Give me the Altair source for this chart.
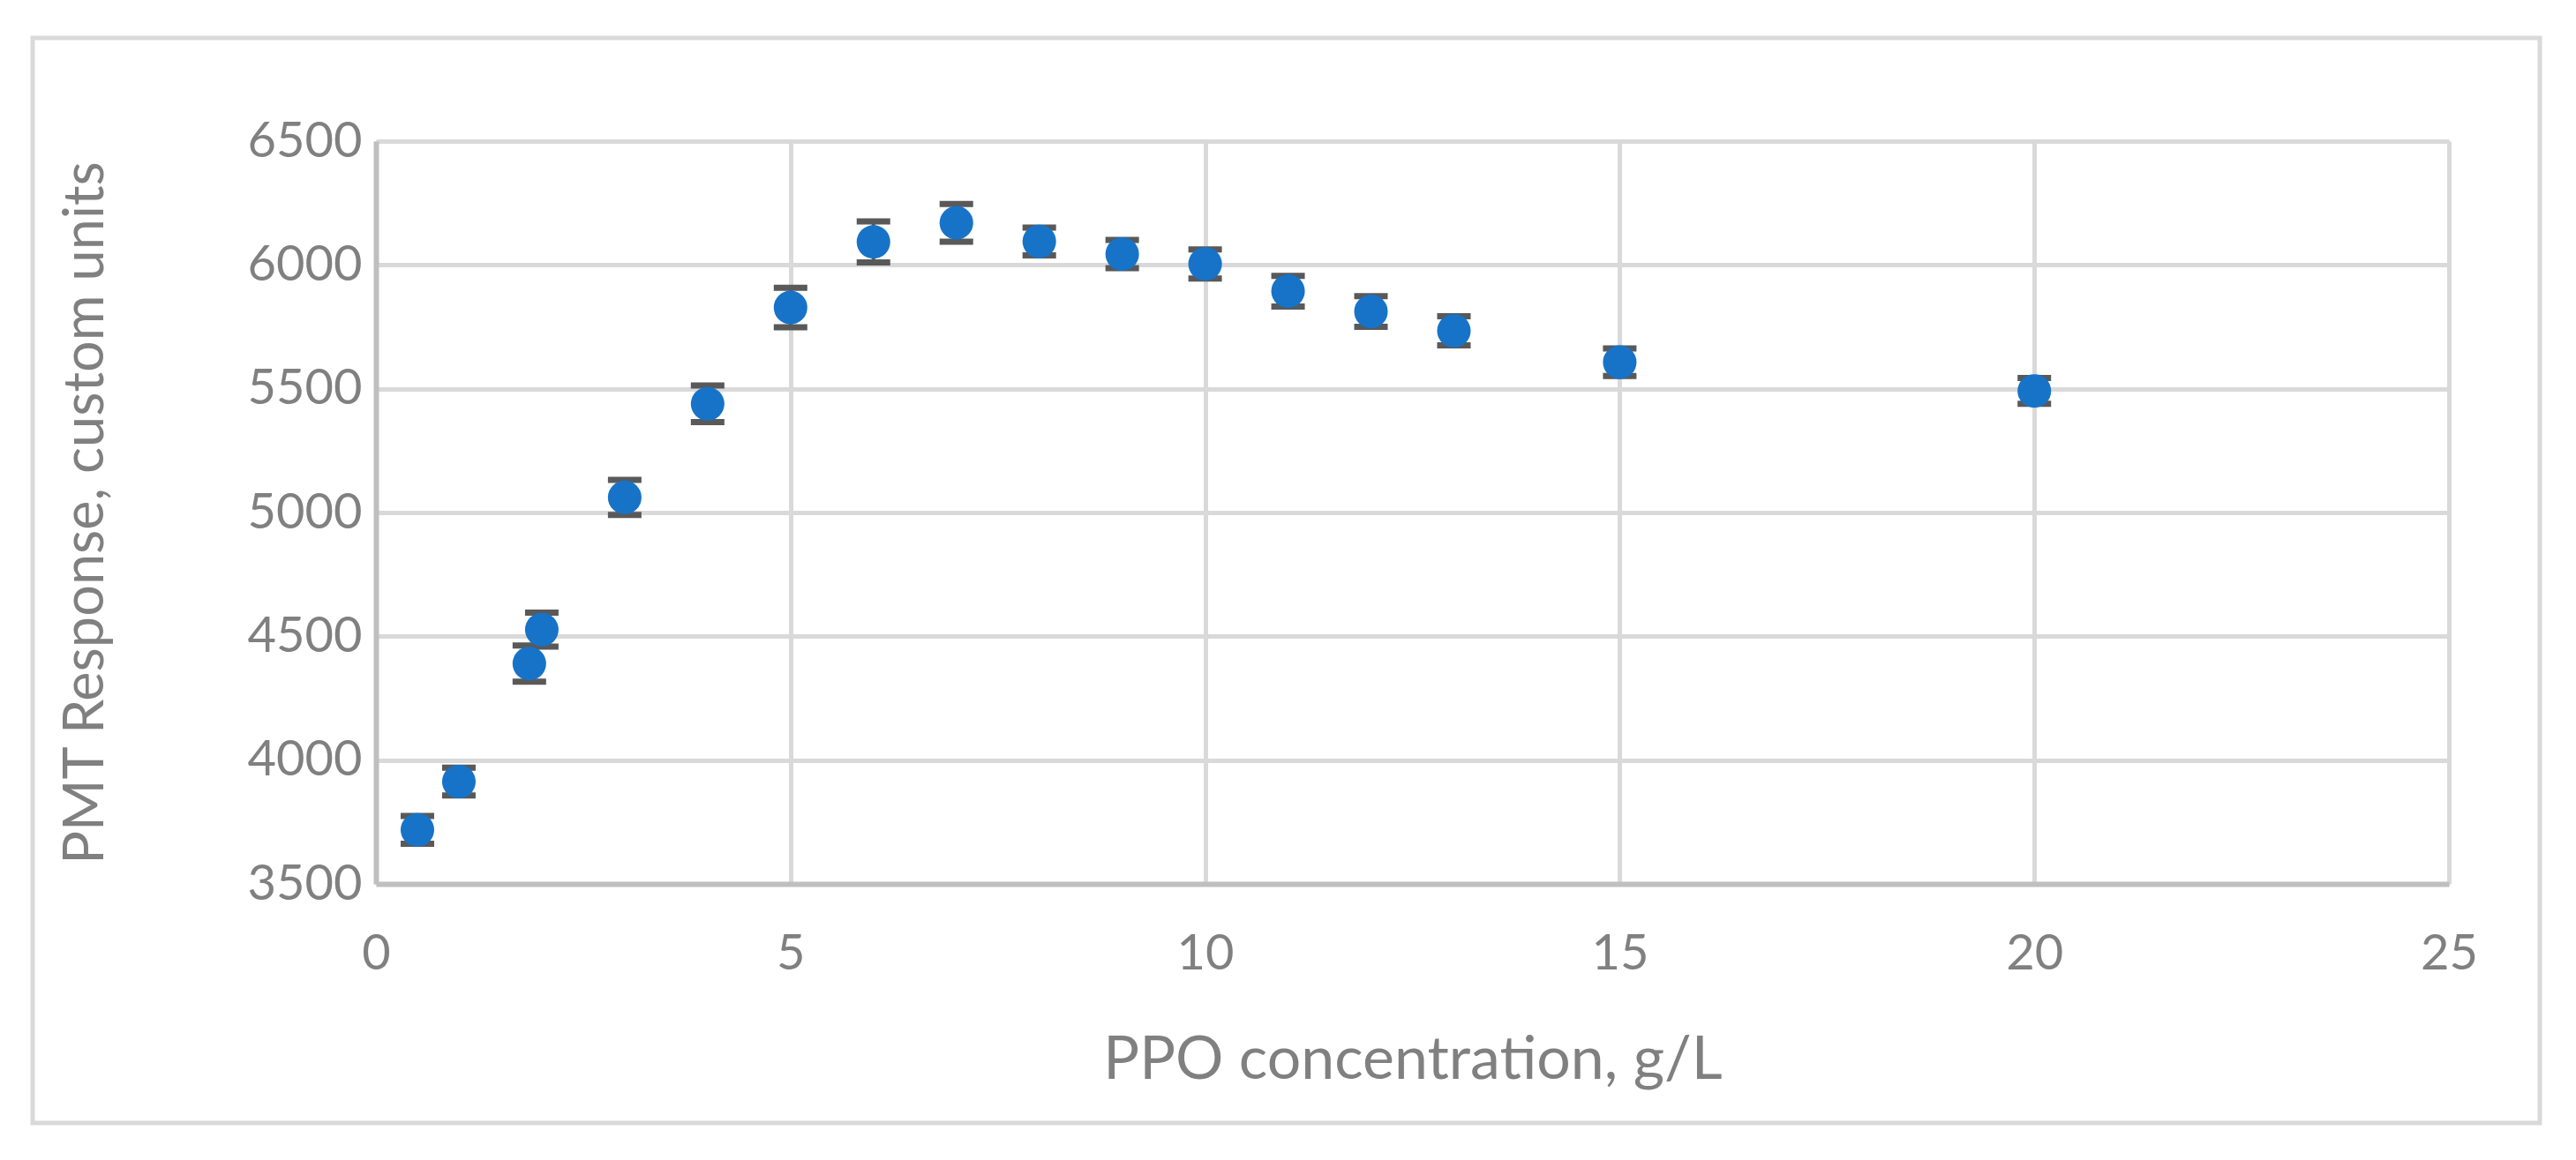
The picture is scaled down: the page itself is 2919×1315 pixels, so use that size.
import altair as alt
import pandas as pd

# Data
ppo = [0.5, 1, 1.85, 2, 3, 4, 5, 6, 7, 8, 9, 10, 11, 12, 13, 15, 20]
pmt = [3718, 3913, 4390, 4527, 5061, 5439, 5828, 6093, 6170, 6095, 6044, 6004, 5894, 5812, 5734, 5607, 5491]
err = [56, 56, 73, 69, 71, 74, 80, 83, 76, 56, 57, 59, 62, 62, 59, 56, 52]

x_ticks = [0, 5, 10, 15, 20, 25]
y_ticks = [3500, 4000, 4500, 5000, 5500, 6000, 6500]

df = pd.DataFrame({"ppo": ppo, "pmt": pmt, "err": err})
df["lo"] = df["pmt"] - df["err"]
df["hi"] = df["pmt"] + df["err"]

W, H = 2349, 842
FONT = "Lato"
GRAY = "#808080"
BAR = "#595959"

x_scale = alt.Scale(domain=[0, 25], nice=False, zero=False)
y_scale = alt.Scale(domain=[3500, 6500], nice=False, zero=False)

x_axis = alt.Axis(
    values=x_ticks, format="d", title="PPO concentration, g/L", grid=True, gridColor="#d9d9d9",
    gridWidth=5, domainColor="#bfbfbf", domainWidth=6, ticks=False, labelFlush=False,
    labelFont=FONT, labelFontSize=56, labelColor=GRAY, labelPadding=52,
    titleFont=FONT, titleFontSize=68, titleColor=GRAY, titleFontWeight="normal",
    titleX=W / 2, titleY=200, titleBaseline="middle",
)
y_axis = alt.Axis(
    values=y_ticks, format="d", title="PMT Response, custom units", grid=True, gridColor="#d9d9d9",
    gridWidth=5, domainColor="#bfbfbf", domainWidth=6, ticks=False, labelFlush=False,
    labelFont=FONT, labelFontSize=56, labelColor=GRAY, labelPadding=16,
    titleFont=FONT, titleFontSize=63, titleColor=GRAY, titleFontWeight="normal",
    titleX=-329, titleY=H / 2, titleBaseline="middle", titleAngle=270,
)

base = alt.Chart(df)

frame = base.mark_rect(filled=False, stroke="#d9d9d9", strokeWidth=5, clip=False).encode(
    x=alt.value(-389), x2=alt.value(2452), y=alt.value(-117), y2=alt.value(1113)
).transform_filter(alt.datum.ppo == 20)

rules = base.mark_rule(color=BAR, strokeWidth=4, opacity=1).encode(
    x=alt.X("ppo:Q", scale=x_scale, axis=x_axis),
    y=alt.Y("lo:Q", scale=y_scale, axis=y_axis),
    y2="hi:Q",
)
caps_lo = base.mark_tick(color=BAR, orient="horizontal", size=38, thickness=7, opacity=1).encode(
    x=alt.X("ppo:Q", scale=x_scale), y=alt.Y("lo:Q", scale=y_scale)
)
caps_hi = base.mark_tick(color=BAR, orient="horizontal", size=38, thickness=7, opacity=1).encode(
    x=alt.X("ppo:Q", scale=x_scale), y=alt.Y("hi:Q", scale=y_scale)
)
points = base.mark_point(filled=True, shape="circle", size=1450, color="#1773C8", opacity=1).encode(
    x=alt.X("ppo:Q", scale=x_scale), y=alt.Y("pmt:Q", scale=y_scale)
)

chart = alt.layer(frame, rules, caps_lo, caps_hi, points).properties(
    width=W, height=H,
    autosize=alt.AutoSizeParams(type="none"),
    padding={"left": 418, "top": 152, "right": 120, "bottom": 290},
).configure_view(stroke=None).configure(background="white")

chart.save("out.html", embed_options={"renderer": "svg", "actions": False})
